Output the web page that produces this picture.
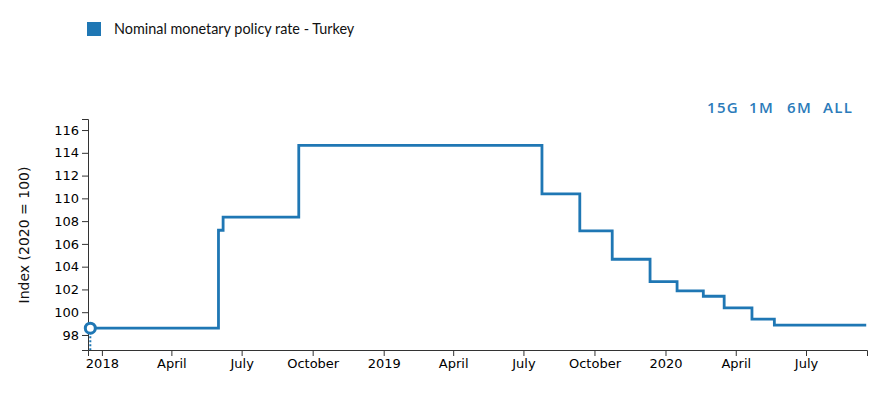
<!DOCTYPE html>
<html>
<head>
<meta charset="utf-8">
<script src="https://cdn.jsdelivr.net/npm/d3@7"></script>
<style>
  body { margin: 0; background: #fff; }
  svg { display: block; }
  .axis text, .axis-label { font-family: 'DejaVu Sans', Verdana, sans-serif; }
</style>
</head>
<body>
<main></main>
<script>
// policy decision dates and index level from that date on
const dates = [
  '2017-12-17',
  '2018-06-01',
  '2018-06-07',
  '2018-09-13',
  '2019-07-25',
  '2019-09-12',
  '2019-10-24',
  '2019-12-12',
  '2020-01-16',
  '2020-02-19',
  '2020-03-17',
  '2020-04-22',
  '2020-05-21',
  '2020-09-17',
];
const values = [
  98.6, 107.2, 108.35, 114.65, 110.4, 107.15, 104.65, 102.68, 101.88, 101.4,
  100.38, 99.4, 98.86, 98.86,
];
const seriesName = 'Nominal monetary policy rate - Turkey';
const yLabel = 'Index (2020 = 100)';
const rangeButtons = ['15G', '1M', '6M', 'ALL'];
const xDomain = ['2017-12-14', '2020-09-18'];
const yDomain = [96.68, 116.97];

const parseDate = d3.timeParse('%Y-%m-%d');
const data = dates.map((d, i) => ({ date: parseDate(d), value: values[i] }));

const color = '#1f77b4';

const dimensions = {
  width: 887,
  height: 397,
  margin: { top: 119, right: 20, bottom: 47, left: 88 },
};
dimensions.boundedWidth =
  dimensions.width - dimensions.margin.left - dimensions.margin.right;
dimensions.boundedHeight =
  dimensions.height - dimensions.margin.top - dimensions.margin.bottom;

const svg = d3
  .select('main')
  .append('svg')
  .attr('width', dimensions.width)
  .attr('height', dimensions.height);

// legend
const legend = svg.append('g').attr('transform', 'translate(87 22)');
legend.append('rect').attr('width', 14).attr('height', 14).attr('fill', color);
legend
  .append('text')
  .attr('x', 27)
  .attr('y', 12)
  .style('font-family', 'Lato, sans-serif')
  .style('font-size', '14.4px')
  .attr('fill', '#111')
  .text(seriesName);

// range buttons
const buttonX = [707, 749, 787, 823];
svg
  .append('g')
  .selectAll('text')
  .data(rangeButtons)
  .join('text')
  .attr('x', (d, i) => buttonX[i])
  .attr('y', 113)
  .style('font-family', "'Open Sans', sans-serif")
  .style('font-weight', 600)
  .style('font-size', '15px')
  .style('letter-spacing', '1.3px')
  .attr('fill', '#2b7bba')
  .text(d => d);

const bounds = svg
  .append('g')
  .attr(
    'transform',
    `translate(${dimensions.margin.left} ${dimensions.margin.top})`
  );

const xScale = d3
  .scaleTime()
  .domain(xDomain.map(parseDate))
  .range([0, dimensions.boundedWidth]);

const yScale = d3
  .scaleLinear()
  .domain(yDomain)
  .range([dimensions.boundedHeight, 0]);

const xAxis = d3
  .axisBottom(xScale)
  .ticks(d3.timeMonth.every(3))
  .tickSize(6)
  .tickPadding(3);

const yAxis = d3
  .axisLeft(yScale)
  .tickValues(d3.range(98, 117, 2))
  .tickSize(6)
  .tickPadding(3);

const xAxisGroup = bounds
  .append('g')
  .attr('class', 'axis')
  .attr('transform', `translate(0 ${dimensions.boundedHeight})`)
  .call(xAxis);
const yAxisGroup = bounds.append('g').attr('class', 'axis').call(yAxis);

[xAxisGroup, yAxisGroup].forEach(g => {
  g.attr('font-family', null).attr('font-size', null);
  g.selectAll('text').style('font-size', '13px').attr('fill', '#000');
  g.selectAll('path, line').attr('stroke', '#333');
});

svg
  .append('text')
  .attr('class', 'axis-label')
  .attr('transform', `translate(29 ${dimensions.margin.top + 116}) rotate(-90)`)
  .attr('text-anchor', 'middle')
  .style('font-size', '14px')
  .attr('fill', '#111')
  .text(yLabel);

const lineGenerator = d3
  .line()
  .x(d => xScale(d.date))
  .y(d => yScale(d.value))
  .curve(d3.curveStepAfter);

bounds
  .append('path')
  .attr('fill', 'none')
  .attr('stroke', color)
  .attr('stroke-width', 2.8)
  .attr('d', lineGenerator(data));

// hover marker on the first point
const first = data[0];
bounds
  .append('line')
  .attr('x1', xScale(first.date))
  .attr('x2', xScale(first.date))
  .attr('y1', yScale(first.value))
  .attr('y2', dimensions.boundedHeight)
  .attr('stroke', color)
  .attr('stroke-width', 2)
  .attr('stroke-dasharray', '2 2');

bounds
  .append('circle')
  .attr('cx', xScale(first.date))
  .attr('cy', yScale(first.value))
  .attr('r', 5)
  .attr('fill', '#fff')
  .attr('stroke', color)
  .attr('stroke-width', 3);
</script>
</body>
</html>
